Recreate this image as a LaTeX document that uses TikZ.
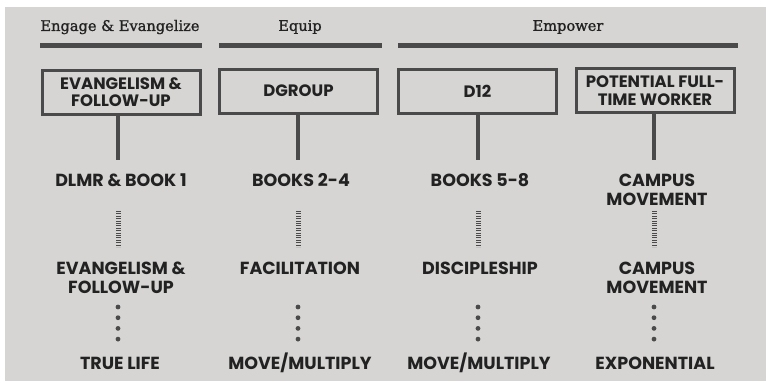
\documentclass[tikz,border=0pt]{standalone}
\usepackage{fontspec}
\setmainfont{Poppins}[BoldFont={Poppins Bold}]
\newfontfamily\headfont{DejaVu Serif}[FakeBold=1.2]
\definecolor{bg}{HTML}{D6D5D3}
\definecolor{ln}{HTML}{4A4A4A}
\definecolor{tx}{HTML}{222222}
\tikzset{
  hbar/.style={draw=ln, line width=5pt},
  head/.style={font=\headfont\fontsize{14.6}{16}\selectfont, text=tx, inner sep=0pt},
  stagebox/.style={draw=ln, line width=3pt, minimum width=158pt, minimum height=44pt, inner sep=0pt,
    align=center, font=\bfseries\fontsize{16.5}{17.5}\selectfont, text=tx},
  lbl/.style={align=center, font=\bfseries\fontsize{17.5}{19}\selectfont, text=tx, inner sep=0pt},
  solidln/.style={draw=ln, line width=4.5pt},
  hatchln/.style={draw=ln, line width=5pt, dash pattern=on 0.9pt off 1.5pt},
  dotln/.style={draw=ln, line width=4.8pt, line cap=round, dash pattern=on 0pt off 10.7pt},
}
\begin{document}
\begin{tikzpicture}[x=1pt, y=-1pt]
\useasboundingbox (0,0) rectangle (768,383);
\fill[white] (0,0) rectangle (768,383);
\fill[bg] (5,7) rectangle (766,381);
% headers
\node[head] (h1) at (120,27) {Engage \& Evangelize};
\node[head] (h2) at (300,27) {Equip};
\node[head] (h3) at (568,27) {Empower};
\coordinate (b1l) at (40,45.5); \coordinate (b1r) at (202,45.5);
\coordinate (b2l) at (219,45.5); \coordinate (b2r) at (382,45.5);
\coordinate (b3l) at (398,45.5); \coordinate (b3r) at (738,45.5);
\draw[hbar] (b1l) -- (b1r);
\draw[hbar] (b2l) -- (b2r);
\draw[hbar] (b3l) -- (b3r);
% boxes
\node[stagebox] (s1) at (121,92) {EVANGELISM \&\\FOLLOW-UP};
\node[stagebox] (s2) at (298.5,91) {DGROUP};
\node[stagebox] (s3) at (477.5,91) {D12};
\node[stagebox] (s4) at (655,90.5) {POTENTIAL FULL-\\TIME WORKER};
% row 2
\node[lbl] (r21) at (121,180) {DLMR \& BOOK 1};
\node[lbl] (r22) at (301,180) {BOOKS 2-4};
\node[lbl] (r23) at (480,180) {BOOKS 5-8};
\node[lbl] (r24) at (657,189.5) {CAMPUS\\MOVEMENT};
% row 3
\node[lbl] (r31) at (121,277.5) {EVANGELISM \&\\FOLLOW-UP};
\node[lbl] (r32) at (300,268) {FACILITATION};
\node[lbl] (r33) at (480,268) {DISCIPLESHIP};
\node[lbl] (r34) at (657,277.5) {CAMPUS\\MOVEMENT};
% row 4
\node[lbl] (r41) at (120,363) {TRUE LIFE};
\node[lbl] (r42) at (300,363) {MOVE/MULTIPLY};
\node[lbl] (r43) at (479,363) {MOVE/MULTIPLY};
\node[lbl] (r44) at (655,363) {EXPONENTIAL};
% connectors
\foreach \i/\x in {1/118,2/298,3/478,4/654}{
  \coordinate (sa\i) at (\x,114);
  \coordinate (sb\i) at (\x,160);
  \coordinate (ha\i) at (\x,211);
  \coordinate (hb\i) at (\x,247);
  \coordinate (da\i) at (\x,307);
  \coordinate (db\i) at (\x,340);
}
\foreach \i in {1,2,3,4}{
  \draw[solidln] (sa\i) -- (sb\i);
  \draw[hatchln] (ha\i) -- (hb\i);
  \draw[dotln] (da\i) -- (db\i);
}
\end{tikzpicture}
\end{document}
